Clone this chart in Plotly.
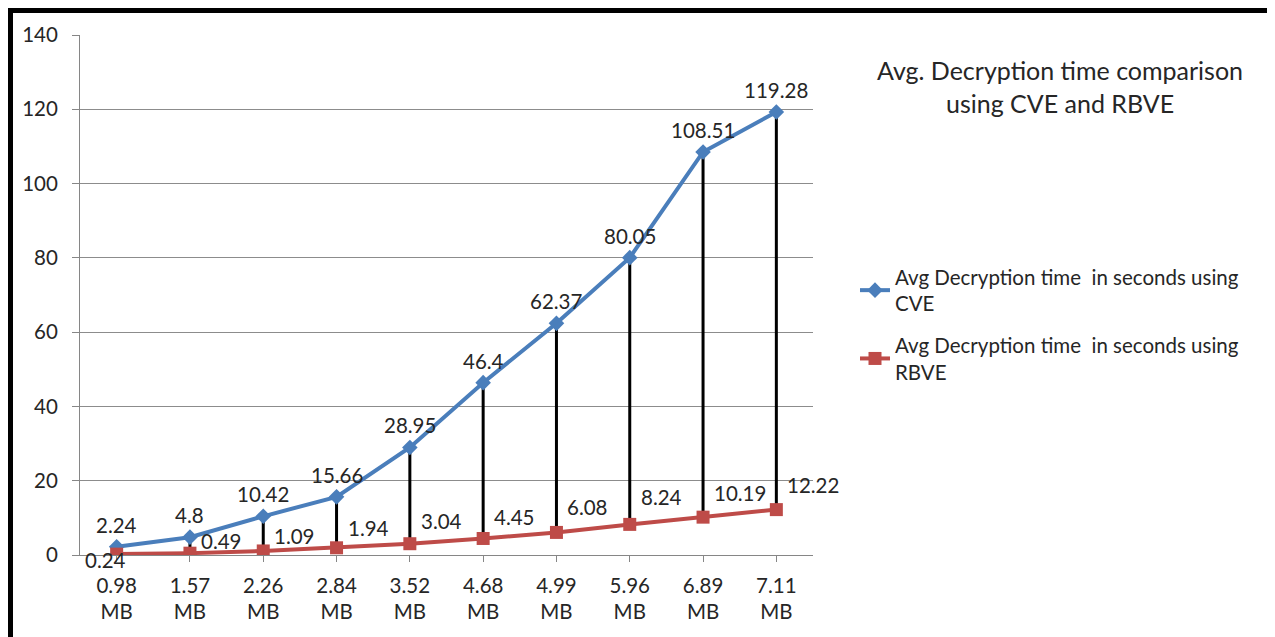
import plotly.graph_objects as go

categories = ["0.98 MB", "1.57 MB", "2.26 MB", "2.84 MB", "3.52 MB",
              "4.68 MB", "4.99 MB", "5.96 MB", "6.89 MB", "7.11 MB"]
cve = [2.24, 4.8, 10.42, 15.66, 28.95, 46.4, 62.37, 80.05, 108.51, 119.28]
rbve = [0.24, 0.49, 1.09, 1.94, 3.04, 4.45, 6.08, 8.24, 10.19, 12.22]
cve_name = "Avg Decryption time  in seconds using<br>CVE"
rbve_name = "Avg Decryption time  in seconds using<br>RBVE"
title_text = "Avg. Decryption time comparison<br>using CVE and RBVE"
y_ticks = [0, 20, 40, 60, 80, 100, 120, 140]

OFF = 8  # default page body margin
W, H = 1275 - OFF, 637 - OFF
L, R, T, B = 80 - OFF, 813 - OFF, 35 - OFF, 555 - OFF
FONT = "Lato"
FS = 20.5
TXT = "#262626"
BLUE = "#4A7EBB"
RED = "#BE4B48"

# label placement styling (pixels above the point) for the RBVE labels
rbve_label_lift = [0, 12, 15, 20, 23, 21, 25, 27, 24, 25]

xidx = list(range(len(categories)))
ticktext = [c.replace(" ", "<br>") for c in categories]

# high-low lines
hx, hy = [], []
for i in xidx:
    hx += [i, i, None]
    hy += [cve[i], rbve[i], None]

fig = go.Figure()
fig.add_trace(go.Scatter(x=hx, y=hy, mode="lines",
                         line=dict(color="black", width=3),
                         showlegend=False, hoverinfo="skip"))
fig.add_trace(go.Scatter(x=xidx, y=cve, mode="lines+markers", name=cve_name,
                         legendgroup="cve",
                         line=dict(color=BLUE, width=4),
                         marker=dict(symbol="diamond", size=12, color=BLUE)))
fig.add_trace(go.Scatter(x=xidx, y=rbve, mode="lines+markers", name=rbve_name,
                         legendgroup="rbve",
                         line=dict(color=RED, width=4),
                         marker=dict(symbol="square", size=13, color=RED)))

ann = []
for i in xidx:
    ann.append(dict(x=i, y=cve[i], xref="x", yref="y", text=str(cve[i]),
                    showarrow=False, xanchor="center", yanchor="middle",
                    yshift=22, font=dict(family=FONT, size=FS, color=TXT)))
    if i == 0:
        ann.append(dict(x=i, y=rbve[i], xref="x", yref="y", text=str(rbve[i]),
                        showarrow=False, xanchor="center", yanchor="middle",
                        xshift=-11, yshift=-6,
                        font=dict(family=FONT, size=FS, color=TXT)))
    else:
        ann.append(dict(x=i, y=rbve[i], xref="x", yref="y", text=str(rbve[i]),
                        showarrow=False, xanchor="left", yanchor="middle",
                        xshift=9, yshift=rbve_label_lift[i],
                        font=dict(family=FONT, size=FS, color=TXT)))

pw, ph = R - L, B - T
def px(x):
    return (x - OFF - L) / pw
def py(y):
    return (B - (y - OFF)) / ph

ann.append(dict(x=px(1060), y=py(87), xref="paper", yref="paper", text=title_text,
                showarrow=False, xanchor="center", yanchor="middle",
                font=dict(family=FONT, size=25, color=TXT)))

shapes = [
    dict(type="line", xref="paper", yref="paper", x0=px(10.5), x1=px(10.5),
         y0=py(8), y1=py(660), line=dict(color="black", width=5)),
    dict(type="line", xref="paper", yref="paper", x0=px(8), x1=px(1272),
         y0=py(10.5), y1=py(10.5), line=dict(color="black", width=5)),
    dict(type="line", xref="paper", yref="paper", x0=px(1269.5), x1=px(1269.5),
         y0=py(8), y1=py(660), line=dict(color="black", width=5)),
]

fig.update_layout(
    width=W, height=H,
    margin=dict(l=L, r=W - R, t=T, b=H - B, pad=0),
    paper_bgcolor="white", plot_bgcolor="white",
    font=dict(family=FONT, size=FS, color=TXT),
    showlegend=True,
    legend=dict(x=px(855), y=py(257), xanchor="left", yanchor="top",
                traceorder="grouped",
                font=dict(family=FONT, size=FS, color=TXT),
                bgcolor="rgba(0,0,0,0)", tracegroupgap=12),
    annotations=ann, shapes=shapes,
    xaxis=dict(range=[-0.5, len(categories) - 0.5], tickmode="array",
               tickvals=xidx, ticktext=ticktext, tickson="boundaries",
               ticks="outside", ticklen=6, tickcolor="#868686",
               showline=True, linecolor="#868686", linewidth=1,
               showgrid=False, zeroline=False, ticklabelstandoff=6,
               tickfont=dict(family=FONT, size=FS, color=TXT)),
    yaxis=dict(range=[0, 140], tickmode="array", tickvals=y_ticks,
               ticks="outside", ticklen=7, tickcolor="#868686",
               showline=True, linecolor="#868686", linewidth=1,
               showgrid=True, gridcolor="#8C8C8C", gridwidth=1,
               zeroline=False, ticklabelstandoff=10,
               tickfont=dict(family=FONT, size=FS, color=TXT)),
)

fig.write_html("out.html")
